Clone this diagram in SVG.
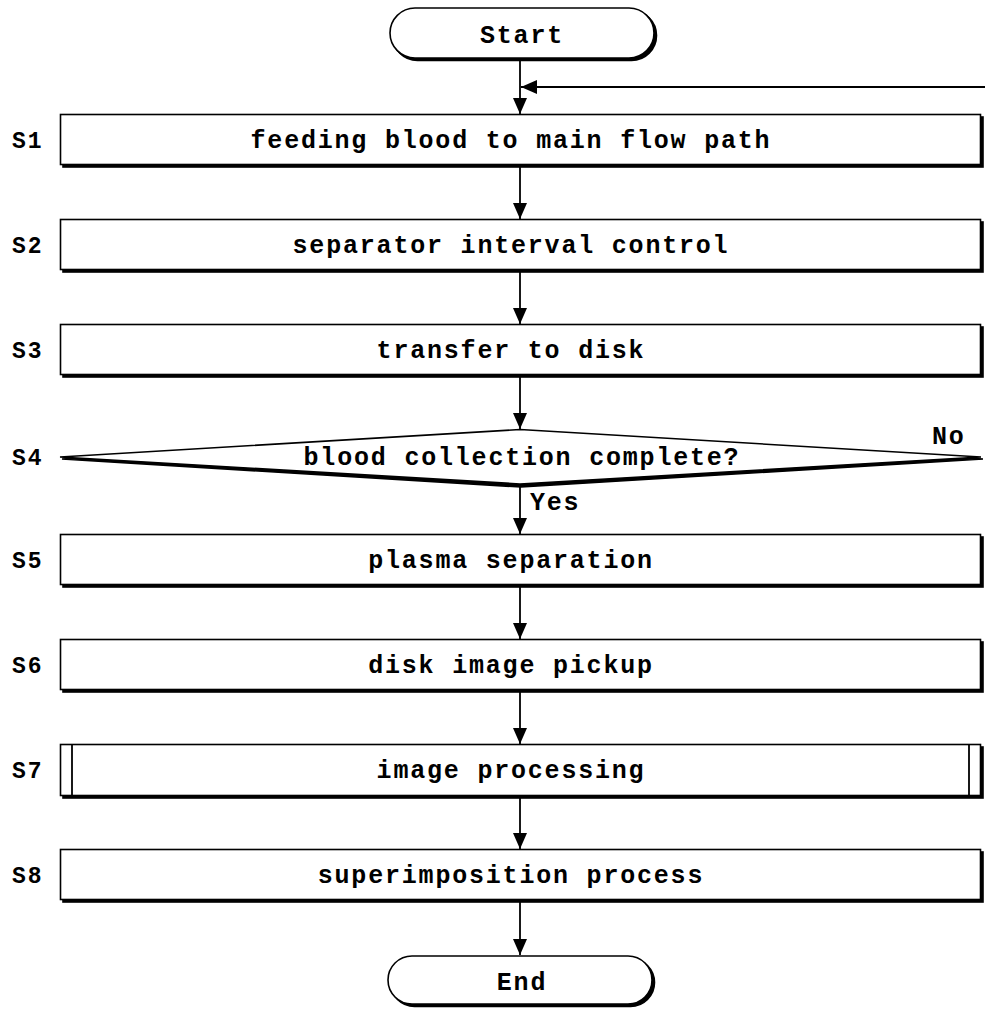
<svg xmlns="http://www.w3.org/2000/svg" width="985" height="1012" viewBox="0 0 985 1012">
  <defs>
    <style>
      .shape { fill: #fff; stroke: #000; stroke-width: 1.6; }
      .shadow { fill: #000; stroke: #000; stroke-width: 1.6; }
      .flow { fill: none; stroke: #000; stroke-width: 1.8; }
      .lbl { font-family: "Liberation Mono", "Courier New", monospace; font-weight: bold; font-size: 25px; letter-spacing: 1.8px; fill: #000; }
      .mid { text-anchor: middle; }
      .step { font-family: "Liberation Mono", "Courier New", monospace; font-weight: bold; font-size: 23px; letter-spacing: 2px; fill: #000; }
    </style>
    <marker id="arrow" viewBox="0 0 16 14" refX="16" refY="7" markerWidth="16" markerHeight="14" markerUnits="userSpaceOnUse" orient="auto">
      <path d="M0,0 L16,7 L0,14 Z" fill="#000"/>
    </marker>
  </defs>
  <rect width="985" height="1012" fill="#fff"/>

  <!-- connectors -->
  <g id="connectors">
    <line class="flow" x1="520" y1="60" x2="520" y2="114" marker-end="url(#arrow)"/>
    <line class="flow" x1="985" y1="87" x2="521" y2="87" marker-end="url(#arrow)"/>
    <line class="flow" x1="520" y1="166" x2="520" y2="219" marker-end="url(#arrow)"/>
    <line class="flow" x1="520" y1="271" x2="520" y2="324" marker-end="url(#arrow)"/>
    <line class="flow" x1="520" y1="376" x2="520" y2="429" marker-end="url(#arrow)"/>
    <line class="flow" x1="520" y1="485" x2="520" y2="534" marker-end="url(#arrow)"/>
    <line class="flow" x1="520" y1="586" x2="520" y2="639" marker-end="url(#arrow)"/>
    <line class="flow" x1="520" y1="691" x2="520" y2="744" marker-end="url(#arrow)"/>
    <line class="flow" x1="520" y1="797" x2="520" y2="849" marker-end="url(#arrow)"/>
    <line class="flow" x1="520" y1="901" x2="520" y2="955" marker-end="url(#arrow)"/>
    <text class="lbl" x="530" y="510">Yes</text>
    <text class="lbl" x="932" y="444">No</text>
  </g>

  <!-- start -->
  <g id="start">
    <rect class="shadow" x="392.5" y="10.5" width="264" height="50" rx="25"/>
    <rect class="shape" x="390" y="8" width="264" height="50" rx="25"/>
    <text class="lbl mid" x="522" y="43">Start</text>
  </g>

  <g id="s1">
    <rect class="shadow" x="63" y="117" width="920" height="50"/>
    <rect class="shape" x="60.5" y="114.5" width="920" height="50"/>
    <text class="lbl mid" x="511" y="148">feeding blood to main flow path</text>
    <text class="step" x="12" y="148">S1</text>
  </g>

  <g id="s2">
    <rect class="shadow" x="63" y="222" width="920" height="50"/>
    <rect class="shape" x="60.5" y="219.5" width="920" height="50"/>
    <text class="lbl mid" x="511" y="253">separator interval control</text>
    <text class="step" x="12" y="253">S2</text>
  </g>

  <g id="s3">
    <rect class="shadow" x="63" y="327" width="920" height="50"/>
    <rect class="shape" x="60.5" y="324.5" width="920" height="50"/>
    <text class="lbl mid" x="511" y="358">transfer to disk</text>
    <text class="step" x="12" y="358">S3</text>
  </g>

  <g id="s4">
    <polygon class="shadow" points="521,432 983,459 521,487 62,459"/>
    <polygon class="shape" points="520,429.5 981,457 520,484 60,457"/>
    <text class="lbl mid" x="522" y="465">blood collection complete?</text>
    <text class="step" x="12" y="465">S4</text>
  </g>

  <g id="s5">
    <rect class="shadow" x="63" y="537" width="920" height="50"/>
    <rect class="shape" x="60.5" y="534.5" width="920" height="50"/>
    <text class="lbl mid" x="511" y="568">plasma separation</text>
    <text class="step" x="12" y="568">S5</text>
  </g>

  <g id="s6">
    <rect class="shadow" x="63" y="642" width="920" height="50"/>
    <rect class="shape" x="60.5" y="639.5" width="920" height="50"/>
    <text class="lbl mid" x="511" y="673">disk image pickup</text>
    <text class="step" x="12" y="673">S6</text>
  </g>

  <g id="s7">
    <rect class="shadow" x="63" y="747" width="920" height="51"/>
    <rect class="shape" x="60.5" y="744.5" width="920" height="51"/>
    <line class="flow" x1="72" y1="744.5" x2="72" y2="795.5" stroke-width="1.4"/>
    <line class="flow" x1="969" y1="744.5" x2="969" y2="795.5" stroke-width="1.4"/>
    <text class="lbl mid" x="511" y="778">image processing</text>
    <text class="step" x="12" y="778">S7</text>
  </g>

  <g id="s8">
    <rect class="shadow" x="63" y="852" width="920" height="50"/>
    <rect class="shape" x="60.5" y="849.5" width="920" height="50"/>
    <text class="lbl mid" x="511" y="883">superimposition process</text>
    <text class="step" x="12" y="883">S8</text>
  </g>

  <!-- end -->
  <g id="end">
    <rect class="shadow" x="390.5" y="958.5" width="264" height="48" rx="24"/>
    <rect class="shape" x="388" y="956" width="264" height="48" rx="24"/>
    <text class="lbl mid" x="522" y="990">End</text>
  </g>
</svg>
